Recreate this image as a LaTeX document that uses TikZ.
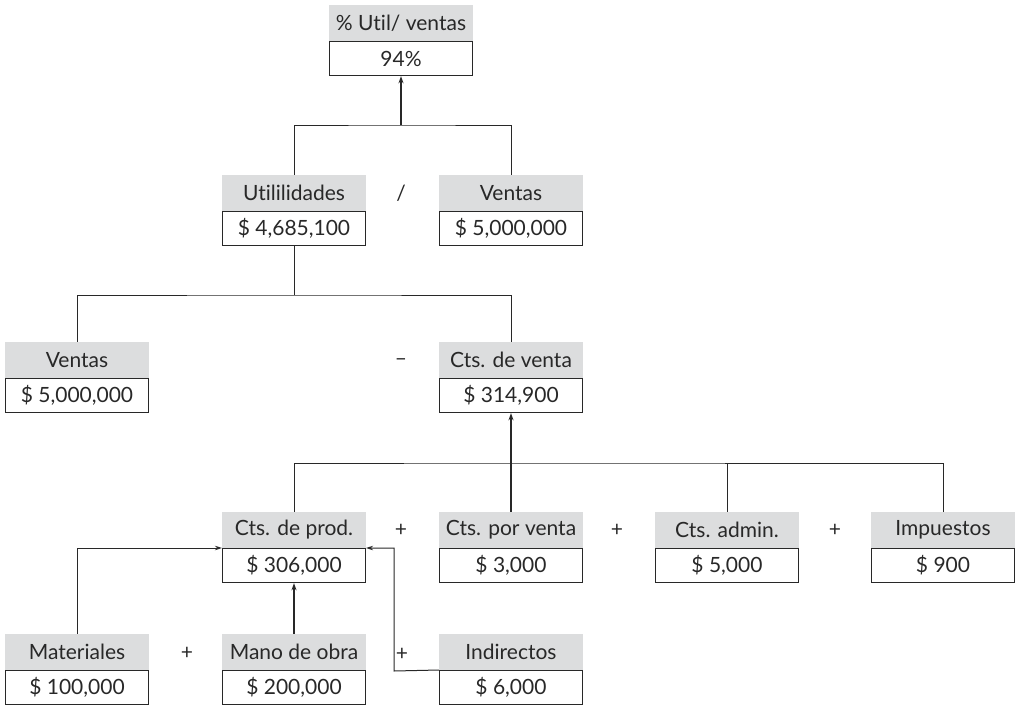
\documentclass[tikz,border=0pt]{standalone}
\usepackage{fontspec}
\setmainfont{Lato}[Ligatures={NoCommon,NoRare,NoDiscretionary}]
\usetikzlibrary{arrows.meta}
\definecolor{hdrgray}{RGB}{220,221,222}
\definecolor{ink}{RGB}{40,40,40}
\tikzset{
  hdr/.style={fill=hdrgray, minimum width=144pt, minimum height=36pt, inner sep=0pt, anchor=south, text=ink, font=\fontsize{21}{24}\selectfont},
  val/.style={draw=ink, line width=1.2pt, minimum width=143pt, minimum height=34pt, inner sep=0pt, anchor=north, text=ink, font=\fontsize{21}{24}\selectfont},
  conn/.style={draw=ink, line width=1pt},
  arr/.style={draw=ink, line width=1pt, -{Stealth[length=7pt,width=4.5pt]}},
  thickarr/.style={draw=ink, line width=1.8pt, -{Stealth[length=7pt,width=5pt]}},
  op/.style={text=ink, font=\fontsize{21}{24}\selectfont, inner sep=0pt}
}
\begin{document}
\begin{tikzpicture}[x=1pt,y=-1pt]
\useasboundingbox (0,0) rectangle (1015,707);
% row 1
\node[hdr] (hTop) at (401,41) {\% Util/ ventas};
\node[val] (vTop) at (401,41) {94\%};
% row 2
\node[hdr] (hU) at (294,211) {Utililidades};
\node[val] (vU) at (294,211) {\$ 4,685,100};
\node[hdr] (hV2) at (511,211) {Ventas};
\node[val] (vV2) at (511,211) {\$ 5,000,000};
\node[op] (o1) at (401,193) {/};
% row 3
\node[hdr] (hV3) at (77,378) {Ventas};
\node[val] (vV3) at (77,378) {\$ 5,000,000};
\node[hdr] (hCV) at (511,378) {Cts. de venta};
\node[val] (vCV) at (511,378) {\$ 314,900};
\node[op] (o2) at (401,362) {–};
% row 4
\node[hdr] (hCP) at (294,548) {Cts. de prod.};
\node[val] (vCP) at (294,548) {\$ 306,000};
\node[hdr] (hCPV) at (511,548) {Cts. por venta};
\node[val] (vCPV) at (511,548) {\$ 3,000};
\node[hdr] (hCA) at (727,548) {Cts. admin.};
\node[val] (vCA) at (727,548) {\$ 5,000};
\node[hdr] (hImp) at (943,548) {Impuestos};
\node[val] (vImp) at (943,548) {\$ 900};
\node[op] (o3) at (401,530) {+};
\node[op] (o4) at (617,530) {+};
\node[op] (o5) at (835,530) {+};
% row 5
\node[hdr] (hMat) at (77,670) {Materiales};
\node[val] (vMat) at (77,670) {\$ 100,000};
\node[hdr] (hMO) at (294,670) {Mano de obra};
\node[val] (vMO) at (294,670) {\$ 200,000};
\node[hdr] (hInd) at (511,670) {Indirectos};
\node[val] (vInd) at (511,670) {\$ 6,000};
\node[op] (o6) at (187,653) {+};
\node[op] (o7) at (402,654) {+};
% junctions
\coordinate (j1) at (401,125);
\coordinate (j2) at (294,295);
\coordinate (j3) at (511,463);
\coordinate (k1) at (394,671);
% connectors
\draw[conn] (hU.north) |- (j1) -| (hV2.north);
\draw[thickarr] (j1) -- (vTop.south);
\draw[conn] (vU.south) -- (j2);
\draw[conn] (hV3.north) |- (j2) -| (hCV.north);
\draw[conn] (hCP.north) |- (j3) -| (hImp.north);
\draw[conn] (hCA.north) -- (hCA.north |- j3);
\draw[thickarr] (hCPV.north) -- (vCV.south);
\draw[arr] (hMat.north) |- (vCP.north west);
\draw[thickarr] (hMO.north) -- (vCP.south);
\draw[arr] (vInd.north west) -- (k1) |- (vCP.north east);
\end{tikzpicture}
\end{document}
